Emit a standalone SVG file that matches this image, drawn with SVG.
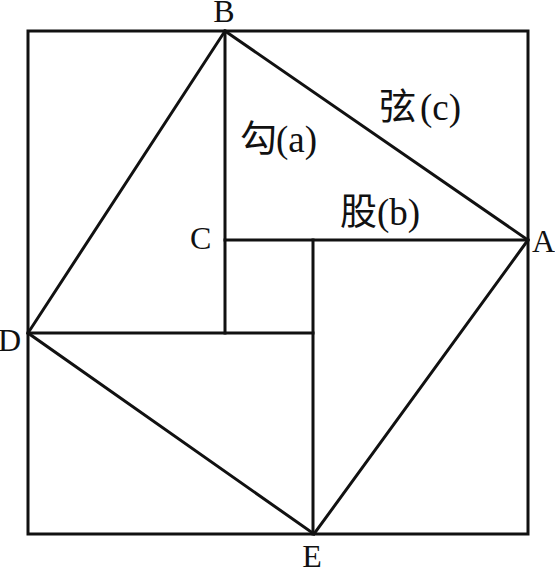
<svg xmlns="http://www.w3.org/2000/svg" width="555" height="569" viewBox="0 0 555 569">
<style>
.ln{stroke:#111;stroke-width:3;fill:none;stroke-linejoin:miter;stroke-linecap:square}
.pt{font-family:"Liberation Serif","Noto Sans CJK SC",serif;font-size:32px;fill:#111}
.lb{font-family:"Liberation Serif","Noto Sans CJK SC",serif;font-size:37px;fill:#111}
</style>
<rect width="555" height="569" fill="#fff"/>
<g id="connectors">
<rect class="ln" x="28" y="31" width="500" height="503"/>
<polygon class="ln" points="225,31 528,240 314,534 28,333"/>
<line class="ln" x1="225" y1="31" x2="225" y2="333"/>
<line class="ln" x1="225" y1="240" x2="528" y2="240"/>
<line class="ln" x1="28" y1="333" x2="313" y2="333"/>
<line class="ln" x1="313" y1="240" x2="313" y2="534"/>
</g>
<g id="B"><text class="pt" x="224" y="22" text-anchor="middle">B</text></g>
<g id="A"><text class="pt" x="532" y="252">A</text></g>
<g id="C"><text class="pt" x="190" y="249">C</text></g>
<g id="D"><text class="pt" x="-2" y="351">D</text></g>
<g id="E"><text class="pt" x="312" y="567" text-anchor="middle">E</text></g>
<g id="label-a"><text class="lb" y="152"><tspan x="240">勾</tspan><tspan x="276">(a)</tspan></text></g>
<g id="label-c"><text class="lb" y="120"><tspan x="379">弦</tspan><tspan x="420">(c)</tspan></text></g>
<g id="label-b"><text class="lb" y="225"><tspan x="340">股</tspan><tspan x="377">(b)</tspan></text></g>
</svg>
